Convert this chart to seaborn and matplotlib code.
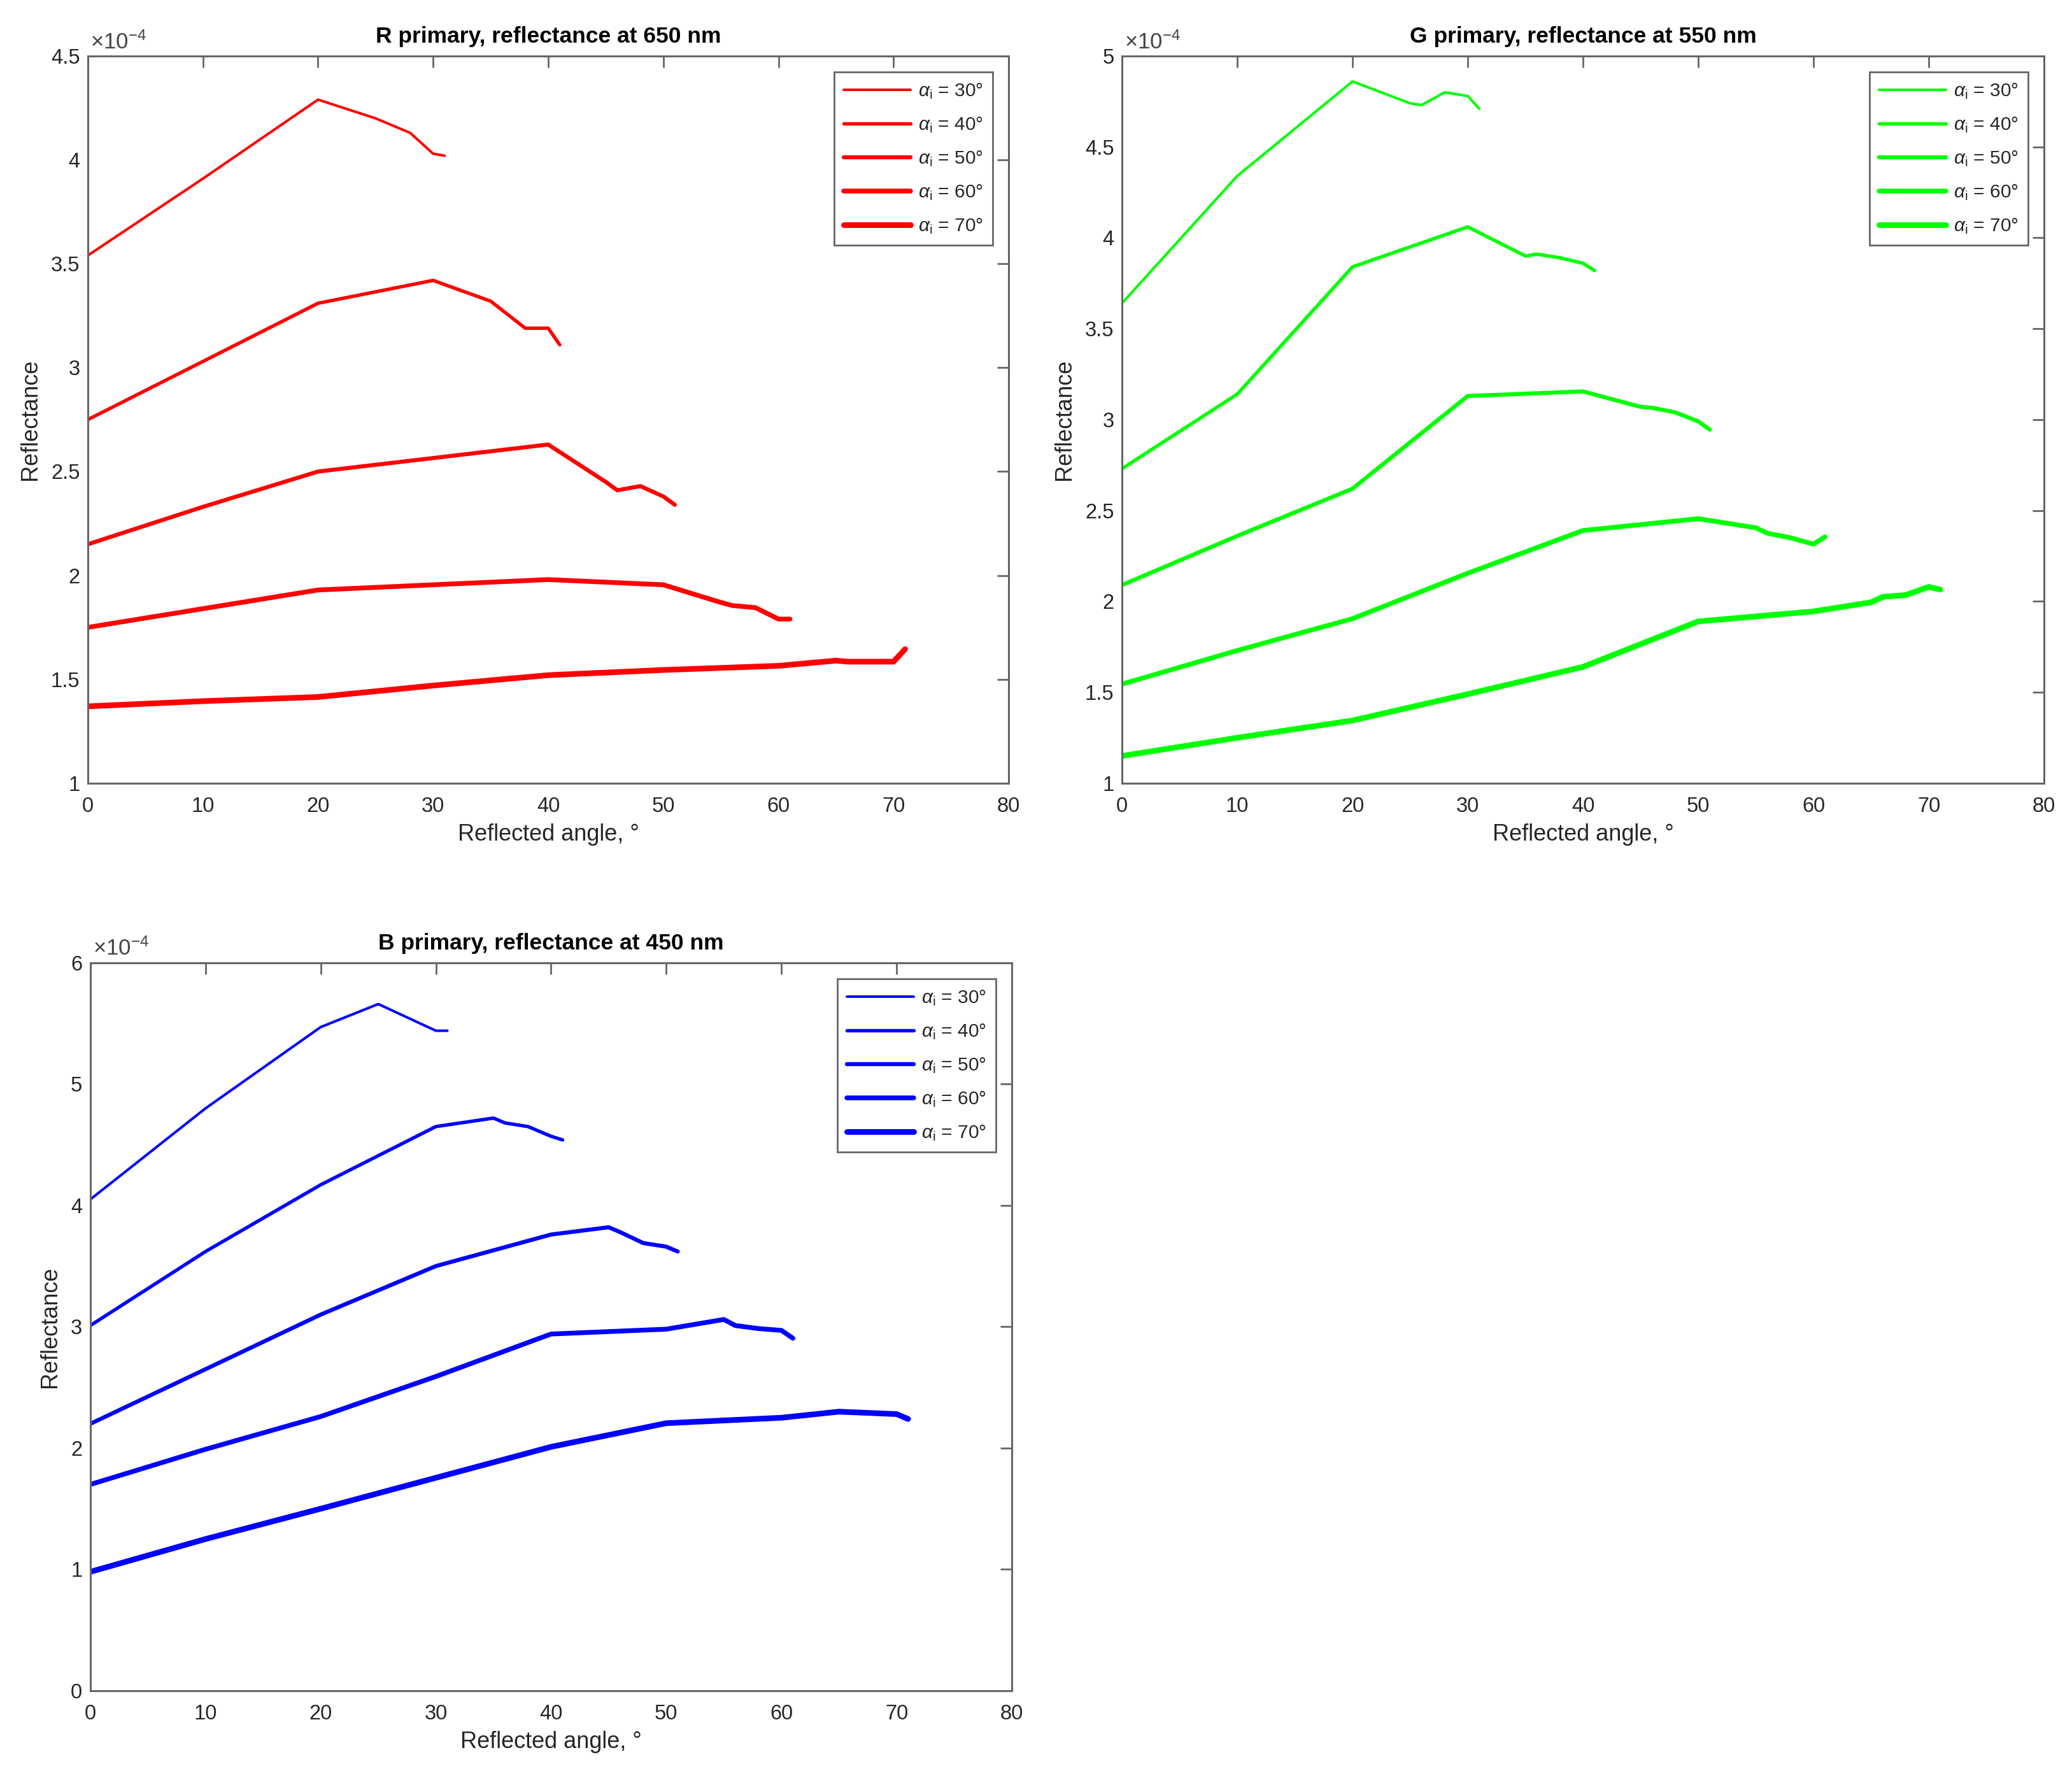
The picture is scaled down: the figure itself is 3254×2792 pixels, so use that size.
import numpy as np
import pandas as pd
import matplotlib
matplotlib.use('Agg')
import matplotlib.pyplot as plt
import seaborn as sns

#### reflectance values, in units of 1e-4

inc_angles = [30, 40, 50, 60, 70]

r_x_30 = [0, 10, 20, 25, 28, 30, 31]
r_y_30 = [3.54, 3.91, 4.29, 4.20, 4.13, 4.03, 4.02]
r_x_40 = [0, 10, 20, 30, 35, 38, 40, 41]
r_y_40 = [2.75, 3.03, 3.31, 3.42, 3.32, 3.19, 3.19, 3.11]
r_x_50 = [0, 10, 20, 30, 40, 45, 46, 48, 50, 51]
r_y_50 = [2.15, 2.33, 2.50, 2.565, 2.63, 2.45, 2.41, 2.43, 2.38, 2.34]
r_x_60 = [0, 10, 20, 30, 40, 50, 55, 56, 58, 60, 61]
r_y_60 = [1.75, 1.84, 1.93, 1.955, 1.98, 1.955, 1.87, 1.855, 1.845, 1.79, 1.79]
r_x_70 = [0, 10, 20, 30, 40, 50, 60, 65, 66, 70, 71]
r_y_70 = [1.37, 1.395, 1.415, 1.47, 1.52, 1.545, 1.565, 1.59, 1.585, 1.585, 1.645]

g_x_30 = [0, 10, 20, 25, 26, 28, 30, 31]
g_y_30 = [3.64, 4.34, 4.86, 4.74, 4.73, 4.80, 4.78, 4.71]
g_x_40 = [0, 10, 20, 30, 35, 36, 38, 40, 41]
g_y_40 = [2.73, 3.14, 3.84, 4.06, 3.90, 3.91, 3.89, 3.86, 3.82]
g_x_50 = [0, 10, 20, 30, 40, 45, 46, 48, 50, 51]
g_y_50 = [2.09, 2.36, 2.62, 3.13, 3.155, 3.07, 3.065, 3.04, 2.99, 2.945]
g_x_60 = [0, 10, 20, 30, 40, 50, 55, 56, 58, 60, 61]
g_y_60 = [1.545, 1.73, 1.905, 2.155, 2.39, 2.455, 2.405, 2.375, 2.35, 2.315, 2.355]
g_x_70 = [0, 10, 20, 30, 40, 50, 60, 65, 66, 68, 70, 71]
g_y_70 = [1.15, 1.25, 1.345, 1.49, 1.64, 1.89, 1.945, 1.995, 2.025, 2.035, 2.08, 2.065]

b_x_30 = [0, 10, 20, 25, 30, 31]
b_y_30 = [4.05, 4.80, 5.47, 5.66, 5.44, 5.44]
b_x_40 = [0, 10, 20, 30, 35, 36, 38, 40, 41]
b_y_40 = [3.01, 3.62, 4.17, 4.65, 4.72, 4.68, 4.65, 4.57, 4.54]
b_x_50 = [0, 10, 20, 30, 40, 45, 46, 48, 50, 51]
b_y_50 = [2.20, 2.65, 3.10, 3.50, 3.76, 3.82, 3.78, 3.69, 3.66, 3.62]
b_x_60 = [0, 10, 20, 30, 40, 50, 55, 56, 58, 60, 61]
b_y_60 = [1.70, 1.99, 2.26, 2.59, 2.94, 2.98, 3.06, 3.01, 2.985, 2.97, 2.905]
b_x_70 = [0, 10, 20, 30, 40, 50, 60, 65, 70, 71]
b_y_70 = [0.98, 1.25, 1.50, 1.755, 2.01, 2.205, 2.25, 2.30, 2.28, 2.24]

x_ticks = [0, 10, 20, 30, 40, 50, 60, 70, 80]
r_yticks = [1, 1.5, 2, 2.5, 3, 3.5, 4, 4.5]
g_yticks = [1, 1.5, 2, 2.5, 3, 3.5, 4, 4.5, 5]
b_yticks = [0, 1, 2, 3, 4, 5, 6]


def make_frame(xs, ys):
    rows = []
    for inc, x, y in zip(inc_angles, xs, ys):
        for a, v in zip(x, y):
            rows.append((inc, a, v))
    return pd.DataFrame(rows, columns=['inc', 'angle', 'refl'])


dist_r = make_frame([r_x_30, r_x_40, r_x_50, r_x_60, r_x_70],
                    [r_y_30, r_y_40, r_y_50, r_y_60, r_y_70])
dist_g = make_frame([g_x_30, g_x_40, g_x_50, g_x_60, g_x_70],
                    [g_y_30, g_y_40, g_y_50, g_y_60, g_y_70])
dist_b = make_frame([b_x_30, b_x_40, b_x_50, b_x_60, b_x_70],
                    [b_y_30, b_y_40, b_y_50, b_y_60, b_y_70])

#### style
sns.set_theme(style='white')
plt.rcParams['font.family'] = ['Liberation Sans', 'DejaVu Sans']
plt.rcParams['mathtext.fontset'] = 'custom'
plt.rcParams['mathtext.rm'] = 'Liberation Sans'
plt.rcParams['mathtext.it'] = 'Liberation Sans:italic'

line_sizes = {30: 2.9, 40: 3.9, 50: 4.6, 60: 5.4, 70: 6.4}
axis_col = '#666666'
text_col = '#262626'

fig = plt.figure(figsize=(32.54, 27.92), dpi=100)


def panel(rect, data, color, title, yticks):
    ax = fig.add_axes(rect)
    sns.lineplot(data=data, x='angle', y='refl', size='inc', sizes=line_sizes,
                 color=color, estimator=None, legend=False, ax=ax)
    ax.set_xlim(0, 80)
    ax.set_ylim(yticks[0], yticks[-1])
    ax.set_xticks(x_ticks)
    ax.set_yticks(yticks)
    ax.set_xticklabels([str(t) for t in x_ticks])
    ax.set_yticklabels(['%g' % t for t in yticks])
    ax.tick_params(direction='in', top=True, right=True, length=13, width=2,
                   color=axis_col, labelsize=23.5, labelcolor=text_col)
    ax.tick_params(axis='x', pad=15)
    ax.tick_params(axis='y', pad=9)
    for s in ax.spines.values():
        s.set_color(axis_col)
        s.set_linewidth(2.2)
    ax.set_xlabel('Reflected angle, °', fontsize=26, color=text_col, labelpad=8)
    ax.set_ylabel('Reflectance', fontsize=26, color=text_col, labelpad=11)
    ax.set_title(title, fontsize=25.5, fontweight='bold', color='black', pad=15)
    ax.text(0.003, 1.004, r'$\times10^{-4}$', transform=ax.transAxes,
            ha='left', va='bottom', fontsize=25, color='#444444')
    labels = [r'$\alpha_{\rm i}$ = %d°' % a for a in inc_angles]
    leg = ax.legend(ax.get_lines(), labels, loc='upper right', fontsize=21.5,
                    fancybox=False, framealpha=1, edgecolor=axis_col,
                    handlelength=3.5, handletextpad=0.4, labelspacing=0.78,
                    borderpad=0.5, borderaxespad=0.85)
    leg.get_frame().set_linewidth(2)
    for t in leg.get_texts():
        t.set_color(text_col)
    return ax


panel([0.0424, 0.5595, 0.4444, 0.409], dist_r, '#ff0000',
      'R primary, reflectance at 650 nm', r_yticks)
panel([0.5415, 0.5595, 0.4450, 0.409], dist_g, '#00ff00',
      'G primary, reflectance at 550 nm', g_yticks)
panel([0.0436, 0.0491, 0.4447, 0.4094], dist_b, '#0000ff',
      'B primary, reflectance at 450 nm', b_yticks)

plt.savefig('out.png', dpi=100, facecolor='white')
